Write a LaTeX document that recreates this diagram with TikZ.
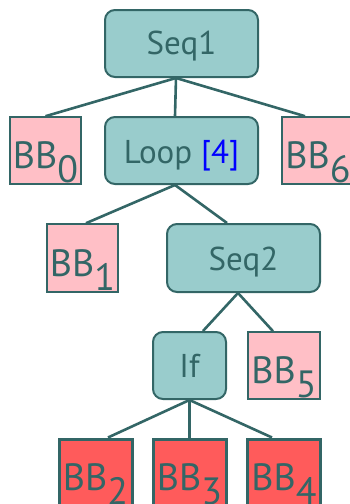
\documentclass[tikz,border=0pt]{standalone}
\usepackage{fontspec}
\setmainfont{PT Sans}
\definecolor{tealfill}{HTML}{99CCCC}
\definecolor{tealline}{HTML}{336666}
\definecolor{bbpink}{HTML}{FFBFC6}
\definecolor{bbred}{HTML}{FF5B5B}
% place text with its baseline a given distance below the node centre
\newcommand\sinkto[2]{\raisebox{-#1}[0pt][0pt]{#2}}
\newcommand\bbname[1]{\sinkto{18pt}{BB\raisebox{-14pt}{#1}}}
\tikzset{
  ctrl/.style={draw=tealline, fill=tealfill, line width=2pt, rounded corners=10pt,
    inner sep=0pt, text=tealline, font=\fontsize{33pt}{33pt}\selectfont},
  block/.style={draw=tealline, line width=1.6pt, inner sep=0pt,
    minimum width=71pt, minimum height=67pt, text=tealline,
    font=\fontsize{38pt}{38pt}\selectfont},
  plainbb/.style={block, fill=bbpink},
  hotbb/.style={block, fill=bbred, line width=3pt},
  edge/.style={draw=tealline, line width=2.6pt}
}
\begin{document}
\begin{tikzpicture}[x=1pt, y=-1pt]
  \useasboundingbox (0,0) rectangle (350,504);

  % control structure nodes
  \node[ctrl, minimum width=153pt, minimum height=67pt] (seqA) at (181.5,43.5) {\sinkto{11pt}{Seq1}};
  \node[ctrl, minimum width=153pt, minimum height=67pt] (loop) at (181.5,150.5) {\sinkto{12.5pt}{Loop \textcolor{blue}{[4]}}};
  \node[ctrl, minimum width=153pt, minimum height=68pt] (seqB) at (243.5,258) {\sinkto{12.5pt}{Seq2}};
  \node[ctrl, minimum width=73pt, minimum height=67pt] (cond) at (189.5,365.5) {\sinkto{11.5pt}{If}};

  % basic blocks
  \node[plainbb] (bb0) at (45.5,150.5) {\bbname{0}};
  \node[plainbb, minimum width=72pt] (bb6) at (318,150.5) {\bbname{6}};
  \node[plainbb, minimum height=68pt] (bb1) at (82.5,258) {\bbname{1}};
  \node[plainbb, minimum width=72pt] (bb5) at (284,365.5) {\bbname{5}};
  \node[hotbb, minimum width=73pt] (bb2) at (95.5,472.5) {\bbname{2}};
  \node[hotbb, minimum width=73pt] (bb3) at (189.5,472.5) {\bbname{3}};
  \node[hotbb, minimum width=73pt] (bb4) at (284,472.5) {\bbname{4}};

  % tree edges
  \draw[edge] ([xshift=-5.5pt]seqA.south) -- (bb0.north);
  \draw[edge] ([xshift=-5.5pt]seqA.south) -- ([xshift=-6.5pt]loop.north);
  \draw[edge] ([xshift=-5.5pt]seqA.south) -- ([xshift=-13pt]bb6.north);
  \draw[edge] ([xshift=-6.5pt]loop.south) -- ([xshift=3.5pt]bb1.north);
  \draw[edge] ([xshift=-6.5pt]loop.south) -- ([xshift=-16.5pt]seqB.north);
  \draw[edge] ([xshift=-5.5pt]seqB.south) -- ([xshift=13.5pt]cond.north);
  \draw[edge] ([xshift=-5.5pt]seqB.south) -- ([xshift=-11pt]bb5.north);
  \draw[edge] (cond.south) -- ([xshift=12.5pt]bb2.north);
  \draw[edge] (cond.south) -- (bb3.north);
  \draw[edge] (cond.south) -- ([xshift=-12pt]bb4.north);
\end{tikzpicture}
\end{document}
